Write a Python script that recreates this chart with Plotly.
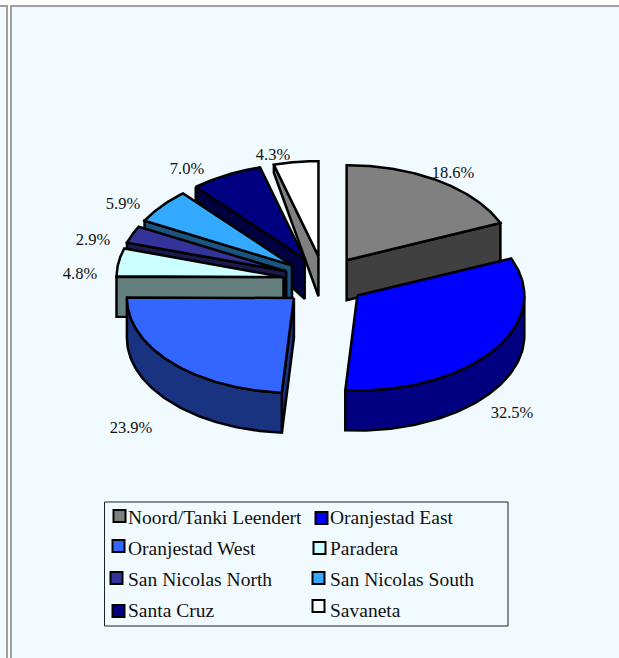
import numpy as np
import plotly.graph_objects as go

# ---- data ----
names = ["Noord/Tanki Leendert", "Oranjestad East", "Oranjestad West", "Paradera",
         "San Nicolas North", "San Nicolas South", "Santa Cruz", "Savaneta"]
values = [18.6, 32.5, 23.9, 4.8, 2.9, 5.9, 7.0, 4.3]
top_colors = ["#808080", "#0000FF", "#3366FF", "#CCFFFF", "#333399", "#33AAFF", "#000080", "#FFFFFF"]
side_colors = ["#404040", "#000080", "#1A3380", "#668080", "#1A1A4D", "#1A5580", "#000040", "#808080"]

# ---- layout constants (pixels) ----
W, H = 619, 658
CX, CY, RX, RY, EX, EY, DEPTH = 324, 281, 167, 95, 41, 25, 40
OUTER_DEPTH = [40, 40, 40, 40, 40, 40, 12, 8]
DRAW_ORDER = [7, 6, 5, 4, 3, 2, 0, 1]
LABEL_X = [453, 512, 131, 80, 93, 123, 187, 273]
LABEL_Y = [174, 414, 429, 275, 241, 205, 170, 156]
LEG_MARK_X = [119.5, 321.5, 118.5, 319.5, 116.5, 318.5, 118.5, 318.5]
LEG_MARK_Y = [516, 518, 546, 548, 578, 578, 611, 606]
LEG_TEXT_X = [128, 330, 128, 330, 128, 330, 128, 330]
LEG_TEXT_Y = [519, 519, 550, 550, 581, 581, 612, 612]
BG = "#F0FAFF"
FONT = "Liberation Serif"

fig = go.Figure()


def poly(xs, ys, color):
    fig.add_trace(go.Scatter(x=xs, y=ys, mode="lines", fill="toself", fillcolor=color,
                             line=dict(color="black", width=2.5, shape="linear"),
                             hoverinfo="skip", showlegend=False))


total = sum(values)
edges = np.concatenate([[0], np.cumsum(values)]) / total * 360

for i in DRAW_ORDER:
    a0, a1 = np.radians(edges[i]), np.radians(edges[i + 1])
    mid = (a0 + a1) / 2
    ax = CX + EX * np.sin(mid)
    ay = CY - EY * np.cos(mid)
    px = lambda t: ax + RX * np.sin(t)
    py = lambda t: ay - RY * np.cos(t)
    d_out = OUTER_DEPTH[i]
    # cut faces
    if 180 < edges[i] < 360:
        poly([ax, px(a0), px(a0), ax, ax], [ay, py(a0), py(a0) + d_out, ay + DEPTH, ay], side_colors[i])
    if 0 < edges[i + 1] < 180:
        poly([ax, px(a1), px(a1), ax, ax], [ay, py(a1), py(a1) + d_out, ay + DEPTH, ay], side_colors[i])
    # outer rim
    r0, r1 = max(a0, np.pi / 2), min(a1, 3 * np.pi / 2)
    if r1 > r0:
        t = np.linspace(r0, r1, 80)
        xs = np.concatenate([px(t), px(t)[::-1], [px(t)[0]]])
        ys = np.concatenate([py(t), py(t)[::-1] + DEPTH, [py(t)[0]]])
        poly(xs, ys, side_colors[i])
    # top
    t = np.linspace(a0, a1, 120)
    poly(np.concatenate([[ax], px(t), [ax]]), np.concatenate([[ay], py(t), [ay]]), top_colors[i])

# percentage labels
fig.add_trace(go.Scatter(x=LABEL_X, y=LABEL_Y, mode="text",
                         text=[f"{v:.1f}%" for v in values], textposition="middle center",
                         textfont=dict(family=FONT, size=16.5, color="#111111"),
                         hoverinfo="skip", showlegend=False))

# legend
shapes = [dict(type="rect", xref="x", yref="y", x0=104.5, x1=508, y0=502, y1=626,
               line=dict(color="#222222", width=1), fillcolor="rgba(0,0,0,0)", layer="below")]
fig.add_trace(go.Scatter(x=LEG_MARK_X, y=LEG_MARK_Y, mode="markers",
                         marker=dict(symbol="square", size=12, color=top_colors,
                                     line=dict(color="black", width=2)),
                         hoverinfo="skip", showlegend=False))
fig.add_trace(go.Scatter(x=LEG_TEXT_X, y=LEG_TEXT_Y, mode="text", text=names,
                         textposition="middle right",
                         textfont=dict(family=FONT, size=19.5, color="#111111"),
                         hoverinfo="skip", showlegend=False))

# page frame
for x0, x1, y0, y1, c in [(0, W, 0, 5, "#FFFFFF"), (8, 10, 0, H, "#FFFFFF"),
                          (6, 8, 5, H, "#A0A0A0"), (10, 12, 5, H, "#A0A0A0"),
                          (0, 8, 5, 7, "#A0A0A0"), (10, W, 5, 7, "#A0A0A0")]:
    shapes.append(dict(type="rect", xref="x", yref="y", x0=x0, x1=x1, y0=y0, y1=y1,
                       line=dict(width=0), fillcolor=c, layer="below"))

fig.update_layout(width=W, height=H, margin=dict(l=0, r=0, t=0, b=0),
                  paper_bgcolor=BG, plot_bgcolor=BG, shapes=shapes, showlegend=False,
                  xaxis=dict(range=[0, W], visible=False, fixedrange=True),
                  yaxis=dict(range=[H, 0], visible=False, fixedrange=True))
fig.write_html("out.html", config={"displayModeBar": False},
               post_script="document.body.style.margin='0';document.documentElement.style.overflow='hidden';")
